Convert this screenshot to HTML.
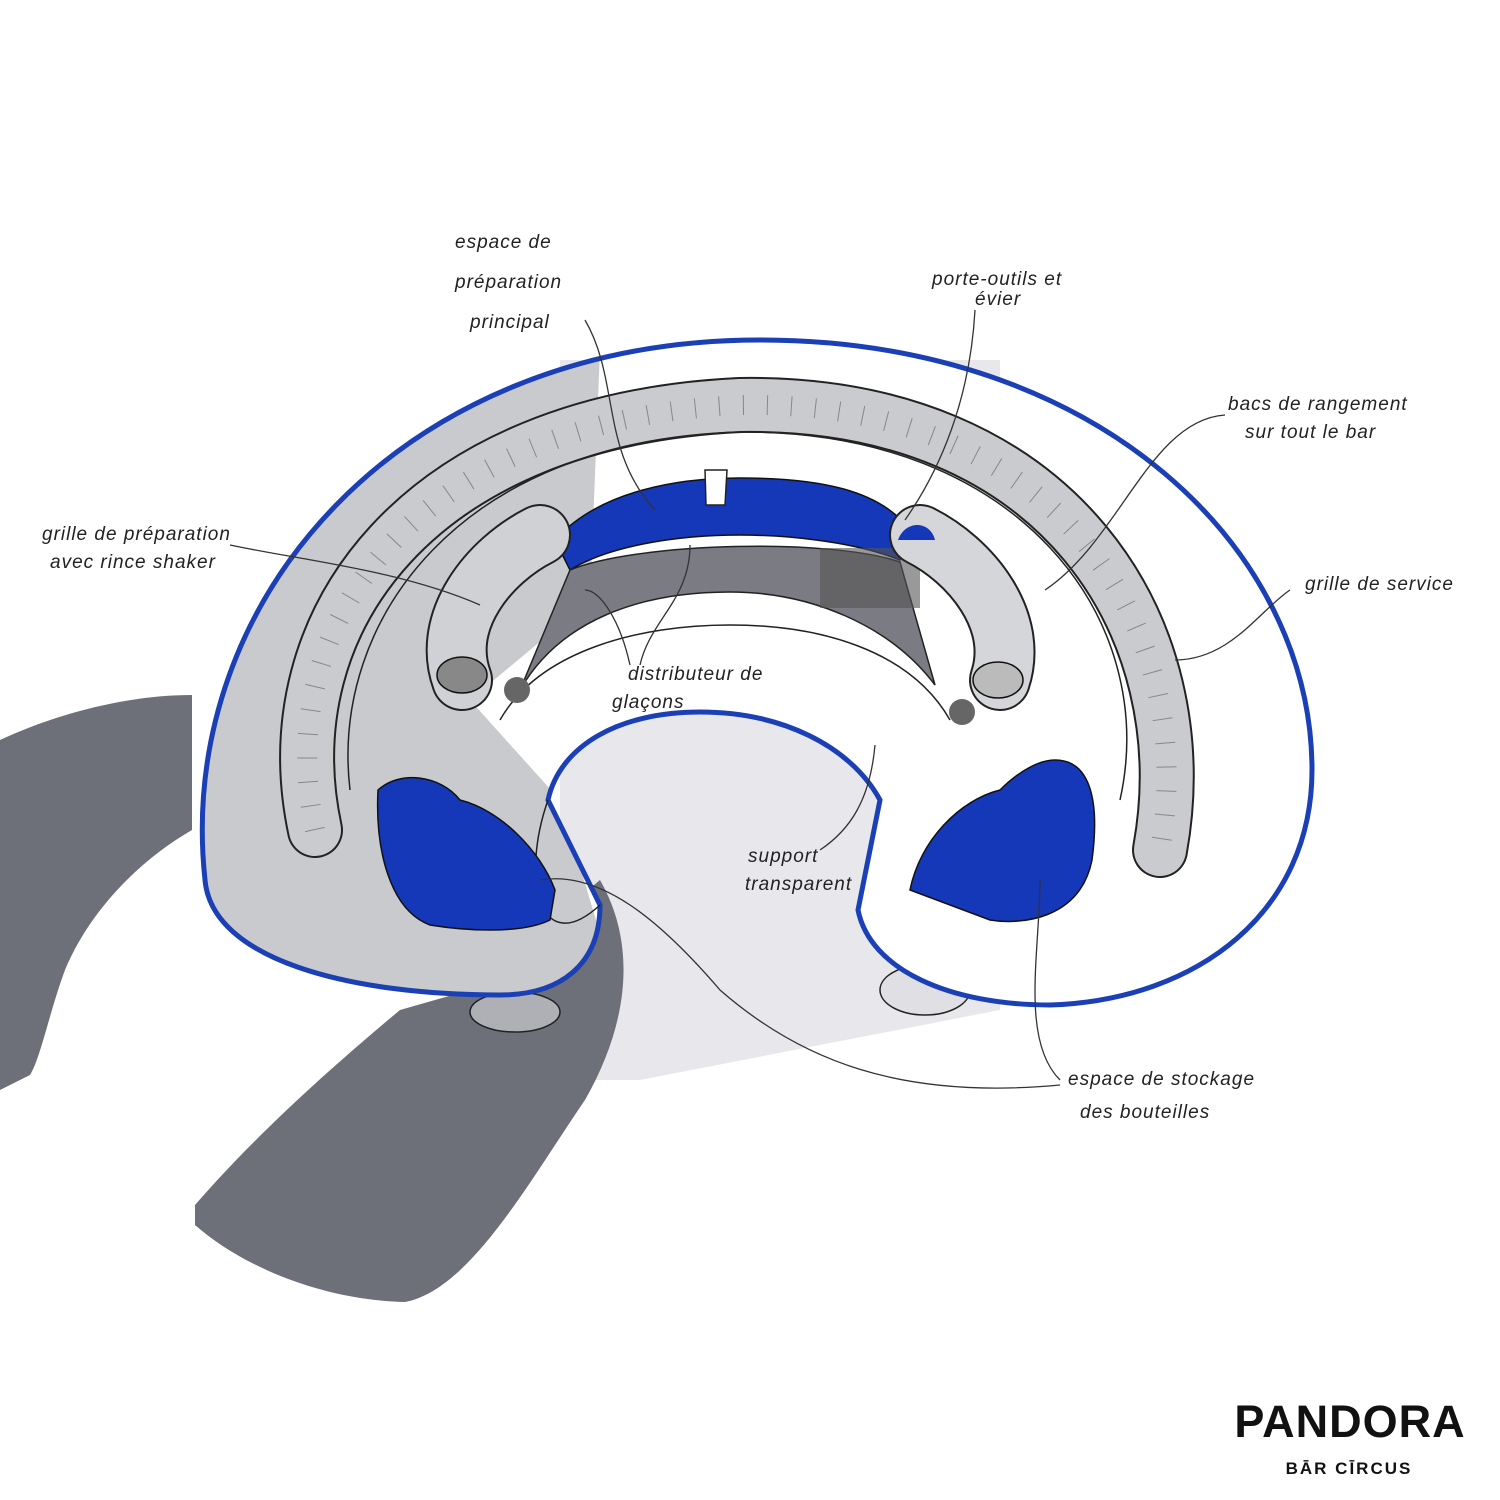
<!DOCTYPE html>
<html><head><meta charset="utf-8"><style>
html,body{margin:0;padding:0;background:#fff;}
svg{display:block}
.l{font-family:"Liberation Sans",sans-serif;font-style:italic;font-size:19px;fill:#222;letter-spacing:1px}
.ld{fill:none;stroke:#333;stroke-width:1.3}
</style></head><body>
<svg width="1500" height="1500" viewBox="0 0 1500 1500" xmlns="http://www.w3.org/2000/svg">
<defs>
<clipPath id="bc"><path d="M205,880 C175,600 400,340 760,340 C1100,340 1312,550 1312,770 C1312,910 1200,1000 1050,1005 C950,1005 870,970 858,910 L880,800 C850,745 780,712 700,712 C620,712 560,745 548,800 L600,905 C600,965 560,995 500,995 C350,995 212,960 205,880 Z"/></clipPath>
</defs>
<path d="M560,360 L1000,360 L1000,1010 L640,1080 L560,1080 Z" fill="#e8e8ec"/>
<path d="M0,740 C60,712 130,695 192,695 L192,830 C140,860 90,910 65,970 C50,1010 40,1060 30,1075 L0,1090 Z" fill="#6d7079"/>
<path d="M195,1205 C260,1130 340,1060 400,1010 L470,990 L600,880 C640,950 625,1030 585,1100 C530,1180 470,1290 405,1302 C320,1300 240,1265 195,1225 Z" fill="#6d7079"/>
<ellipse cx="515" cy="1012" rx="45" ry="20" fill="#aeb0b6" stroke="#222" stroke-width="1.5"/>
<ellipse cx="925" cy="990" rx="45" ry="25" fill="#e0e0e4" stroke="#222" stroke-width="1.5"/>
<path d="M205,880 C175,600 400,340 760,340 C1100,340 1312,550 1312,770 C1312,910 1200,1000 1050,1005 C950,1005 870,970 858,910 L880,800 C850,745 780,712 700,712 C620,712 560,745 548,800 L600,905 C600,965 560,995 500,995 C350,995 212,960 205,880 Z" fill="#fff"/>
<g clip-path="url(#bc)">
<path d="M180,1000 L180,350 L600,350 L590,600 L470,700 L560,800 L620,1000 Z" fill="#c9cace"/>
</g>
<path d="M205,880 C175,600 400,340 760,340 C1100,340 1312,550 1312,770 C1312,910 1200,1000 1050,1005 C950,1005 870,970 858,910 L880,800 C850,745 780,712 700,712 C620,712 560,745 548,800 L600,905 C600,965 560,995 500,995 C350,995 212,960 205,880 Z" fill="none" stroke="#1b3fb5" stroke-width="5"/>
<path d="M548,800 C520,880 540,960 600,905" fill="none" stroke="#222" stroke-width="1.5"/>
<path d="M315,830 C270,620 420,420 740,405 C1060,400 1200,630 1160,850" fill="none" stroke="#222" stroke-width="56" stroke-linecap="round"/>
<path d="M315,830 C270,620 420,420 740,405 C1060,400 1200,630 1160,850" fill="none" stroke="#cacbcf" stroke-width="52" stroke-linecap="round"/>
<path d="M315,830 C270,620 420,420 740,405 C1060,400 1200,630 1160,850" fill="none" stroke="#444" stroke-width="20" stroke-dasharray="1 23" opacity="0.5"/>
<path d="M350,790 C330,620 460,440 740,432 C1020,430 1160,620 1120,800" fill="none" stroke="#222" stroke-width="1.5"/>
<path d="M555,540 C600,490 680,478 740,478 C820,478 880,490 910,530 L900,560 C850,540 780,535 740,535 C680,535 610,545 570,570 Z" fill="#1538b8" stroke="#111" stroke-width="1.5"/>
<path d="M570,570 C640,542 830,538 900,562 L935,685 C890,625 810,592 730,592 C640,592 560,620 520,690 Z" fill="#7b7c83" stroke="#222" stroke-width="1.5"/>
<rect x="820" y="548" width="100" height="60" fill="#555" opacity="0.6"/>
<path d="M500,720 C540,650 640,625 730,625 C820,625 910,650 950,720" fill="none" stroke="#222" stroke-width="1.5"/>
<path d="M462,680 C440,620 490,560 540,535" fill="none" stroke="#222" stroke-width="62" stroke-linecap="round"/>
<path d="M462,680 C440,620 490,560 540,535" fill="none" stroke="#d0d1d5" stroke-width="58" stroke-linecap="round"/>
<path d="M1000,680 C1020,620 970,560 920,535" fill="none" stroke="#222" stroke-width="62" stroke-linecap="round"/>
<path d="M1000,680 C1020,620 970,560 920,535" fill="none" stroke="#d5d6da" stroke-width="58" stroke-linecap="round"/>
<path d="M898,540 C905,520 930,520 935,540" fill="#1538b8"/>
<ellipse cx="462" cy="675" rx="25" ry="18" fill="#888" stroke="#111" stroke-width="1.5"/>
<ellipse cx="998" cy="680" rx="25" ry="18" fill="#bbb" stroke="#111" stroke-width="1.5"/>
<circle cx="517" cy="690" r="13" fill="#666"/><circle cx="962" cy="712" r="13" fill="#666"/>
<path d="M705,470 L706,505 L725,505 L727,470 Z" fill="#fff" stroke="#222" stroke-width="1.5"/>
<path d="M378,790 C400,770 440,775 460,800 C500,810 540,850 555,890 L550,920 C520,935 460,930 430,925 C390,910 375,850 378,790 Z" fill="#1538b8" stroke="#111" stroke-width="1.5"/>
<path d="M1055,760 C1090,760 1100,800 1092,860 C1080,920 1020,925 990,920 L910,890 C920,840 960,800 1000,790 C1020,770 1040,760 1055,760 Z" fill="#1538b8" stroke="#111" stroke-width="1.5"/>
<path class="ld" d="M585,320 C620,380 600,450 655,510"/>
<path class="ld" d="M975,310 C970,400 940,470 905,520"/>
<path class="ld" d="M1225,415 C1150,420 1120,540 1045,590"/>
<path class="ld" d="M1290,590 C1260,610 1230,660 1175,660"/>
<path class="ld" d="M230,545 C300,560 400,570 480,605"/>
<path class="ld" d="M630,665 C620,620 600,590 585,590"/>
<path class="ld" d="M640,665 C650,620 690,600 690,545"/>
<path class="ld" d="M820,850 C850,830 870,800 875,745"/>
<path class="ld" d="M1060,1085 C900,1100 800,1060 720,990 C660,920 600,870 540,880"/>
<path class="ld" d="M1060,1080 C1020,1040 1040,950 1040,880"/>
<text class="l" x="455" y="248">espace de</text>
<text class="l" x="455" y="288">préparation</text>
<text class="l" x="470" y="328">principal</text>
<text class="l" x="932" y="285">porte-outils et</text>
<text class="l" x="975" y="305">évier</text>
<text class="l" x="1228" y="410">bacs de rangement</text>
<text class="l" x="1245" y="438">sur tout le bar</text>
<text class="l" x="1305" y="590">grille de service</text>
<text class="l" x="42" y="540">grille de préparation</text>
<text class="l" x="50" y="568">avec rince shaker</text>
<text class="l" x="628" y="680">distributeur de</text>
<text class="l" x="612" y="708">glaçons</text>
<text class="l" x="748" y="862">support</text>
<text class="l" x="745" y="890">transparent</text>
<text class="l" x="1068" y="1085">espace de stockage</text>
<text class="l" x="1080" y="1118">des bouteilles</text>
<text x="1350" y="1437" text-anchor="middle" font-family="Liberation Sans,sans-serif" font-weight="bold" font-size="45" fill="#111" letter-spacing="1">PANDORA</text>
<text x="1349" y="1474" text-anchor="middle" font-family="Liberation Sans,sans-serif" font-weight="bold" font-size="17" fill="#111" letter-spacing="2">BĀR CĪRCUS</text>
</svg>
</body></html>
